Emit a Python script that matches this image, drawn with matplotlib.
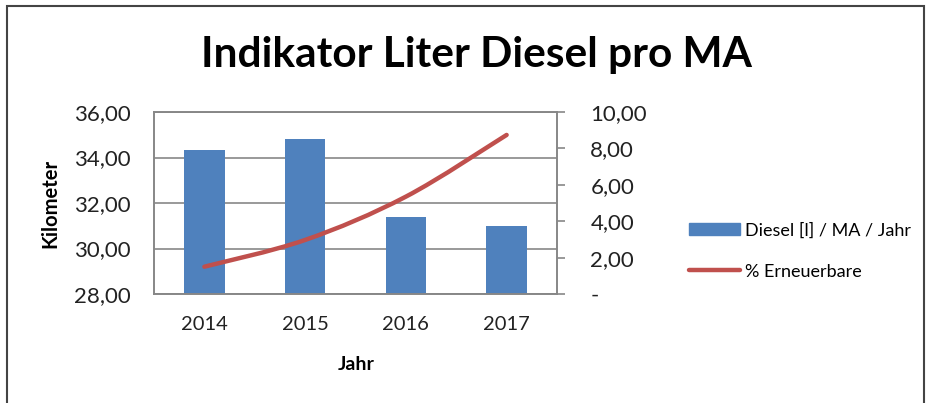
import matplotlib
matplotlib.use('Agg')
import matplotlib.pyplot as plt
from matplotlib.path import Path
from matplotlib.patches import PathPatch, Rectangle
from matplotlib.lines import Line2D
from matplotlib.ticker import FuncFormatter

plt.rcParams['font.family'] = ['Lato', 'DejaVu Sans']

# Daten
jahre = ['2014', '2015', '2016', '2017']
diesel = [34.33, 34.83, 31.40, 31.00]       # Liter Diesel pro MA und Jahr
erneuerbare = [1.50, 2.97, 5.35, 8.74]      # % Erneuerbare

blau = '#4F81BD'
rot = '#C0504D'
grau = '#878787'

fig = plt.figure(figsize=(9.33, 4.03), dpi=100)
fig.patch.set_facecolor('white')
ax = fig.add_axes([154 / 933, 1 - 294 / 403, 403 / 933, 182 / 403])
ax2 = ax.twinx()

x = list(range(len(jahre)))
ax.bar(x, diesel, width=0.4, color=blau, zorder=2)
ax.set_xlim(-0.5, 3.5)
ax.set_ylim(28, 36)
ax.set_yticks([28, 30, 32, 34, 36])
ax.yaxis.set_major_formatter(FuncFormatter(lambda v, p: ('%.2f' % v).replace('.', ',')))
ax.set_xticks(x)
ax.set_xticklabels(jahre)
ax.grid(axis='y', color=grau, linewidth=1.2, zorder=0)
ax.set_axisbelow(True)
ax.tick_params(axis='x', length=0, pad=16, labelsize=14.5, colors='#222222')
ax.tick_params(axis='y', length=0, pad=17, labelsize=16, colors='#222222')

# geglättete Linie wie in Excel (Bezier-Kurven zwischen den Punkten)
pts = list(zip(x, erneuerbare))
verts = [pts[0]]
codes = [Path.MOVETO]
for i in range(len(pts) - 1):
    p0 = pts[i - 1] if i > 0 else pts[i]
    p1 = pts[i]
    p2 = pts[i + 1]
    p3 = pts[i + 2] if i + 2 < len(pts) else pts[i + 1]
    c1 = (p1[0] + (p2[0] - p0[0]) / 6, p1[1] + (p2[1] - p0[1]) / 6)
    c2 = (p2[0] - (p3[0] - p1[0]) / 6, p2[1] - (p3[1] - p1[1]) / 6)
    verts += [c1, c2, p2]
    codes += [Path.CURVE4] * 3
ax2.add_patch(PathPatch(Path(verts, codes), facecolor='none', edgecolor=rot,
                        linewidth=3.2, capstyle='round', zorder=3))
ax2.set_ylim(0, 10)
ax2.set_yticks([0, 2, 4, 6, 8, 10])
ax2.yaxis.set_major_formatter(FuncFormatter(
    lambda v, p: '-' if v == 0 else ('%.2f' % v).replace('.', ',')))
ax2.tick_params(axis='y', length=6, width=1.2, pad=18, labelsize=16, colors='#222222')
ax2.tick_params(axis='y', color=grau)

for a in (ax, ax2):
    for s in a.spines.values():
        s.set_color(grau)
        s.set_linewidth(1.2)

fig.text(476 / 933, 1 - 55 / 403, 'Indikator Liter Diesel pro MA', ha='center', va='center',
         fontsize=30.5, fontweight='bold')
fig.text(50 / 933, 1 - 203 / 403, 'Kilometer', rotation=90, ha='center', va='center',
         fontsize=14.5, fontweight='bold')
fig.text(356 / 933, 1 - 365 / 403, 'Jahr', ha='center', va='center',
         fontsize=14, fontweight='bold')

handles = [Rectangle((0, 0), 1, 1, color=blau),
           Line2D([0], [0], color=rot, linewidth=3.2, solid_capstyle='round')]
fig.legend(handles, ['Diesel [l] / MA / Jahr', '% Erneuerbare'], loc='upper left',
           bbox_to_anchor=(673 / 933, 1 - 206 / 403), frameon=False, fontsize=13,
           handlelength=2.8, handletextpad=0.3, labelspacing=1.4)

# Rahmen um das Diagramm
fig.add_artist(Rectangle((7 / 933, -0.05), 917 / 933, 1 - 6 / 403 + 0.05,
                         transform=fig.transFigure, fill=False, edgecolor='#444444',
                         linewidth=1.5))

fig.savefig('out.png', dpi=100)
